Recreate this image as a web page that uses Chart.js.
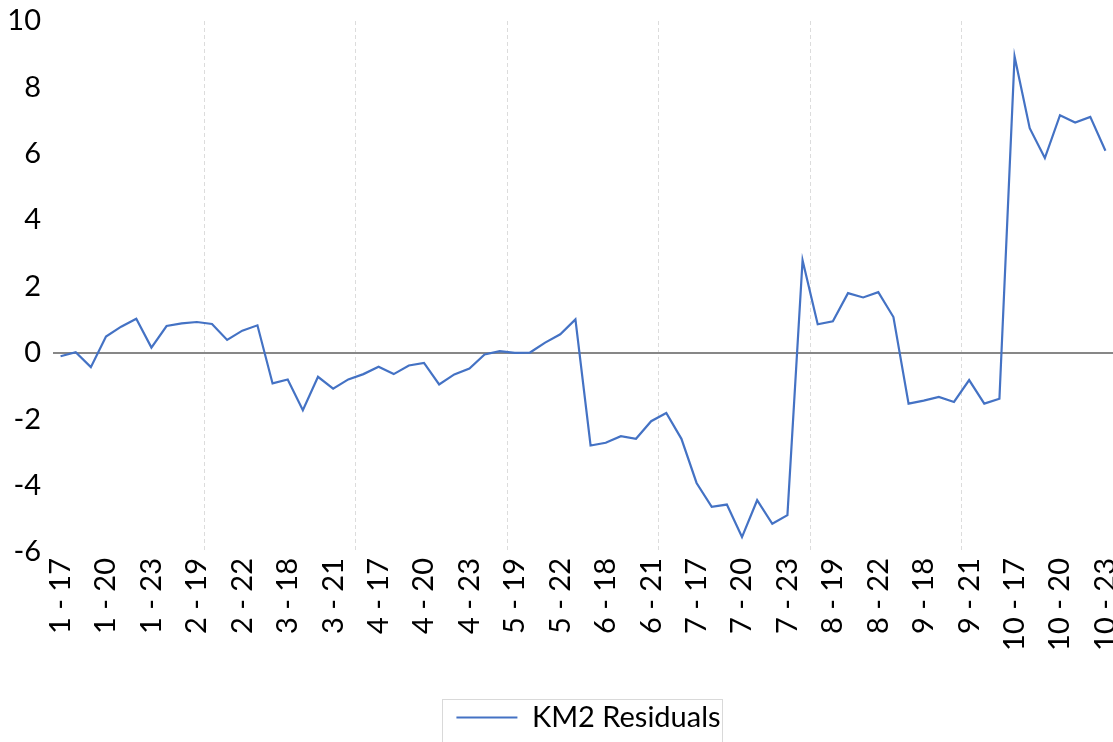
<!DOCTYPE html>
<html>
<head>
<meta charset="utf-8">
<script src="https://cdn.jsdelivr.net/npm/chart.js@4.4.1/dist/chart.umd.min.js"></script>
<style>
  html, body { margin: 0; padding: 0; background: #fff; }
  #wrap { position: relative; width: 1113px; height: 742px; }
</style>
</head>
<body>
<div id="wrap"><canvas id="c"></canvas></div>
<script>
// categories are "month - year" for months 1..10 across years 2017..2023
var MONTHS = [1, 2, 3, 4, 5, 6, 7, 8, 9, 10];
var YEARS = [17, 18, 19, 20, 21, 22, 23];
var Y_TICKS = [-6, -4, -2, 0, 2, 4, 6, 8, 10];

var RESIDUALS = [
  -0.10, 0.02, -0.43, 0.49, 0.79, 1.03, 0.16,      // 1
   0.81, 0.89, 0.93, 0.87, 0.39, 0.67, 0.83,       // 2
  -0.92, -0.80, -1.73, -0.72, -1.08, -0.80, -0.64, // 3
  -0.42, -0.64, -0.38, -0.30, -0.95, -0.65, -0.47, // 4
  -0.05, 0.05, 0.00, 0.01, 0.31, 0.56, 1.01,       // 5
  -2.79, -2.71, -2.51, -2.59, -2.06, -1.81, -2.59, // 6
  -3.92, -4.64, -4.57, -5.55, -4.44, -5.15, -4.89, // 7
   2.79, 0.86, 0.95, 1.80, 1.67, 1.83, 1.08,       // 8
  -1.53, -1.44, -1.33, -1.48, -0.82, -1.53, -1.38, // 9
   8.93, 6.77, 5.87, 7.16, 6.94, 7.11, 6.09        // 10
];

var labels = [];
MONTHS.forEach(function (m) {
  YEARS.forEach(function (y) { labels.push(m + " - " + y); });
});

var FONT = "Lato, 'Noto Sans', sans-serif";
var LEGEND_SHIFT = 32;   // legend sits a little right of centre in the original

// nudge the legend and draw the thin frame round it
var legendFrame = {
  id: "legendFrame",
  afterLayout: function (chart) {
    var lg = chart.legend;
    if (!lg) return;
    lg.left += LEGEND_SHIFT;
    lg.right += LEGEND_SHIFT;
    lg.legendHitBoxes.forEach(function (hb) { hb.left += LEGEND_SHIFT; });
  },
  afterDraw: function (chart) {
    var hb = chart.legend && chart.legend.legendHitBoxes[0];
    if (!hb) return;
    var ctx = chart.ctx;
    ctx.save();
    ctx.strokeStyle = "#d9d9d9";
    ctx.lineWidth = 1;
    ctx.strokeRect(Math.round(hb.left - 14) + 0.5, Math.round(hb.top - 4) + 0.5,
                   Math.round(hb.width + 16), 80);
    ctx.restore();
  }
};

new Chart(document.getElementById("c"), {
  type: "line",
  data: {
    labels: labels,
    datasets: [{
      label: "KM2 Residuals",
      data: RESIDUALS,
      borderColor: "#4472C4",
      backgroundColor: "#4472C4",
      borderWidth: 2.2,
      pointRadius: 0,
      tension: 0
    }]
  },
  options: {
    responsive: true,
    maintainAspectRatio: false,
    animation: false,
    layout: { padding: { top: 21, left: 0, right: 0, bottom: 0 } },
    plugins: {
      tooltip: { enabled: false },
      legend: {
        position: "bottom",
        labels: {
          usePointStyle: true,
          pointStyle: "line",
          pointStyleWidth: 61,
          padding: 4,
          color: "#000",
          font: { family: FONT, size: 29 }
        }
      }
    },
    scales: {
      x: {
        offset: true,
        border: { display: false, dash: [4, 3] },
        grid: {
          offset: true,
          drawTicks: false,
          lineWidth: 1,
          color: function (c) {
            return (c.index > 0 && c.index < labels.length && c.index % 10 === 0) ? "#dcdcdc" : "rgba(0,0,0,0)";
          }
        },
        ticks: {
          autoSkip: false,
          maxRotation: 90,
          minRotation: 90,
          padding: 6,
          color: "#000",
          font: { family: FONT, size: 29 },
          callback: function (v, i) { return i % 3 === 0 ? labels[i] : ""; }
        },
        afterFit: function (s) { s.height = 147; s.paddingLeft = 0; s.paddingRight = 0; }
      },
      y: {
        min: -6,
        max: 10,
        border: { display: false },
        grid: {
          drawTicks: false,
          lineWidth: 2,
          color: function (c) { return c.tick && c.tick.value === 0 ? "#878787" : "rgba(0,0,0,0)"; }
        },
        afterBuildTicks: function (s) { s.ticks = Y_TICKS.map(function (v) { return { value: v }; }); },
        ticks: {
          padding: 12,
          color: "#000",
          font: { family: FONT, size: 29 }
        },
        afterFit: function (s) { s.width = 53; s.paddingTop = 0; s.paddingBottom = 0; }
      }
    }
  },
  plugins: [legendFrame]
});
</script>
</body>
</html>
